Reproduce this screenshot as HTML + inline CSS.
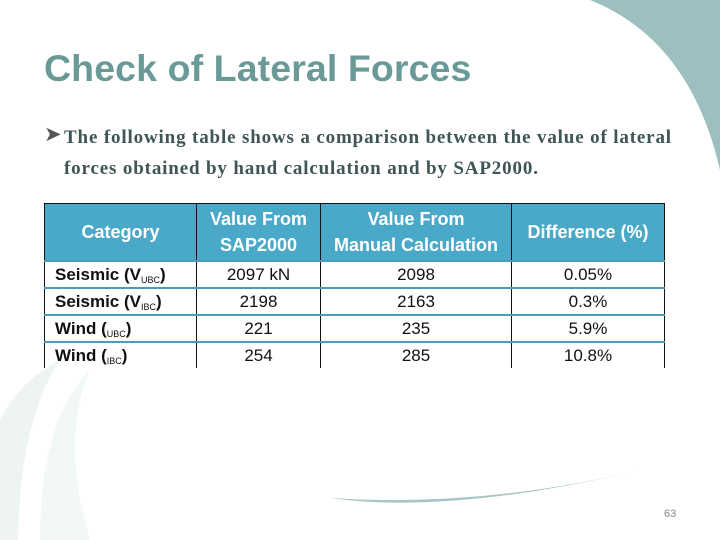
<!DOCTYPE html>
<html><head><meta charset="utf-8"><style>
body{margin:0;width:720px;height:540px;overflow:hidden;background:#fff;position:relative;font-family:"Liberation Sans",sans-serif}
.abs{position:absolute}
table{position:absolute;left:44px;top:203px;border-collapse:collapse;width:620px;font-family:"Liberation Sans",sans-serif;table-layout:fixed}
td,th{border-left:1px solid #111;border-right:1px solid #111;text-align:center;padding:0;color:#111;overflow:hidden;white-space:nowrap}
th{background:#4aa8c8;color:#fff;height:56px;font-weight:bold;font-size:18px;line-height:26px;border-top:1px solid #111}
td{height:25px;line-height:25px;border-top:2px solid #4a9cb8;font-size:17px}
td.c{text-align:left;font-weight:bold;padding-left:10px;font-size:17px}
sub{font-size:9px;font-weight:normal;vertical-align:-3px;line-height:0}
</style></head><body>
<svg class="abs" style="left:0;top:0" width="720" height="540">
<path d="M590 0 Q690 40 720 170 L720 0 Z" fill="#9dbfbf"/>
<path d="M330 498 Q450 515 640 470 Q480 508 330 498 Z" fill="#a9c4c4"/>
<path d="M0 540 L0 420 Q20 380 60 360 Q20 420 18 540 Z" fill="#eef4f4"/>
<path d="M40 540 Q40 420 90 370 Q60 440 90 540 Z" fill="#f2f7f7"/>
</svg>
<div class="abs" style="left:44px;top:47px;font-size:37.5px;font-weight:bold;color:#6a9a98;letter-spacing:0.1px">Check of Lateral Forces</div>
<div class="abs" style="left:44px;top:122px;font-size:21px;color:#555">&#10148;</div>
<div class="abs" style="left:64px;top:122px;font-family:'Liberation Serif',serif;font-weight:bold;font-size:19px;letter-spacing:0.85px;line-height:31px;color:#3f5555;width:650px;white-space:nowrap">The following table shows a comparison between the value of lateral<br>forces obtained by hand calculation and by SAP2000.</div>
<table>
<colgroup><col style="width:152px"><col style="width:124px"><col style="width:191px"><col style="width:153px"></colgroup>
<tr><th>Category</th><th>Value From<br>SAP2000</th><th>Value From<br>Manual Calculation</th><th>Difference (%)</th></tr>
<tr><td class="c">Seismic (V<sub>UBC</sub>)</td><td>2097 kN</td><td>2098</td><td>0.05%</td></tr>
<tr><td class="c">Seismic (V<sub>IBC</sub>)</td><td>2198</td><td>2163</td><td>0.3%</td></tr>
<tr><td class="c">Wind (<sub>UBC</sub>)</td><td>221</td><td>235</td><td>5.9%</td></tr>
<tr><td class="c">Wind (<sub>IBC</sub>)</td><td>254</td><td>285</td><td>10.8%</td></tr>
</table>
<div class="abs" style="left:664px;top:508px;font-size:11px;color:#888">63</div>
</body></html>
